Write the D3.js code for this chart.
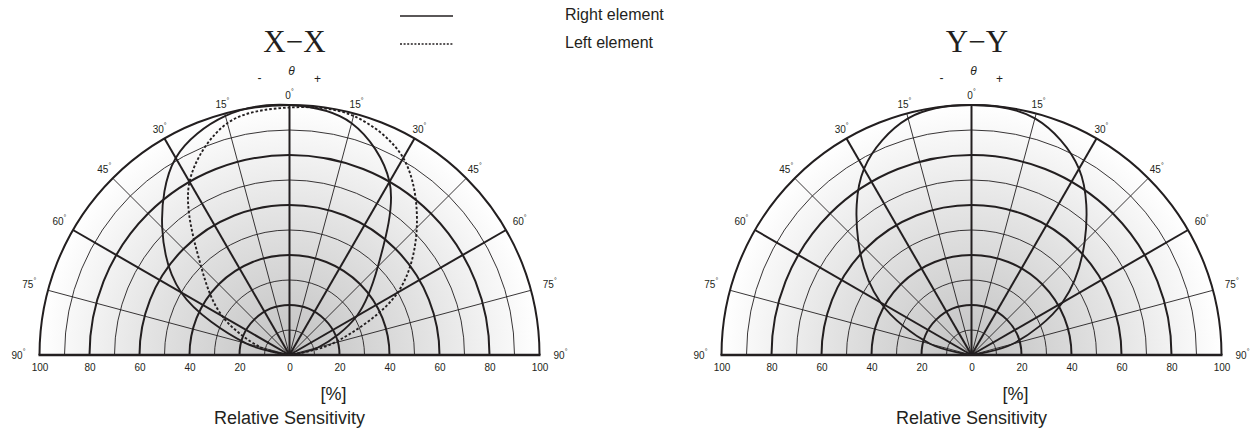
<!DOCTYPE html>
<html>
<head>
<meta charset="utf-8">
<script src="https://cdn.jsdelivr.net/npm/d3@7"></script>
<style>
  body { margin: 0; background: #fff; }
  text { font-family: "Liberation Sans", Arial, sans-serif; fill: #231f20; }
</style>
</head>
<body>
<svg id="chart"></svg>
<script>
// angle in degrees, 0 = straight up, + = right side
const angles = [-90, -75, -60, -45, -30, -15, 0, 15, 30, 45, 60, 75, 90]
const xxRightElement = [0, 18, 50, 72, 91, 99, 100, 96, 80, 50, 31, 12, 0]
const xxLeftElement = [0, 12, 31, 50, 80, 96, 99, 99, 91, 72, 50, 18, 0]
const yyRightElement = [0, 17, 42, 64, 86, 98, 100, 98, 86, 64, 42, 17, 0]

const gridRadii = [10, 20, 30, 40, 50, 60, 70, 80, 90, 100]
const gridAngles = [-75, -60, -45, -30, -15, 0, 15, 30, 45, 60, 75]
const angleLabels = [-90, -75, -60, -45, -30, -15, 0, 15, 30, 45, 60, 75, 90]
const tickValues = [-100, -80, -60, -40, -20, 0, 20, 40, 60, 80, 100]

const w = 1254
const h = 432
const cy = 355
const R = 250
const ink = '#231f20'

const svg = d3.select('#chart')
    .attr('width', w)
    .attr('height', h)

const rScale = d3.scaleLinear().domain([0, 100]).range([0, R])
const aScale = d3.scaleLinear().domain([-90, 90]).range([-Math.PI / 2, Math.PI / 2])
const xScale = d3.scaleLinear().domain([-100, 100]).range([-R, R])

const grad = svg.append('defs')
    .append('radialGradient')
    .attr('id', 'shade')
    .attr('gradientUnits', 'userSpaceOnUse')
    .attr('cx', 0).attr('cy', 0).attr('r', R)
grad.append('stop').attr('offset', '0%').attr('stop-color', '#c2c2c2')
grad.append('stop').attr('offset', '55%').attr('stop-color', '#e2e2e2')
grad.append('stop').attr('offset', '100%').attr('stop-color', '#ffffff')

function halfCircle(r) {
    const p = d3.path()
    p.arc(0, 0, r, Math.PI, 2 * Math.PI)
    return p.toString()
}

const radial = d3.lineRadial()
    .angle(d => aScale(d[0]))
    .radius(d => rScale(d[1]))
    .curve(d3.curveCatmullRom)

// distance of the rim labels from the centre
function labelRadius(d) {
    const s = Math.sin(aScale(d))
    return 259 + 12 * Math.pow(s, 4)
}

function drawPolar(cx, title, titleX, series) {
    const g = svg.append('g').attr('transform', `translate(${cx},${cy})`)

    g.append('path')
        .attr('d', halfCircle(R) + 'Z')
        .attr('fill', 'url(#shade)')

    g.selectAll('.ring')
        .data(gridRadii)
        .enter()
        .append('path')
        .attr('d', d => halfCircle(rScale(d)))
        .attr('fill', 'none')
        .attr('stroke', ink)
        .attr('stroke-width', d => d % 20 === 0 ? 2 : 0.9)

    g.selectAll('.spoke')
        .data(gridAngles)
        .enter()
        .append('line')
        .attr('x1', 0).attr('y1', 0)
        .attr('x2', d => R * Math.sin(aScale(d)))
        .attr('y2', d => -R * Math.cos(aScale(d)))
        .attr('stroke', ink)
        .attr('stroke-width', d => d % 30 === 0 ? 2 : 0.9)

    g.append('line')
        .attr('x1', -R - 1).attr('x2', R + 1)
        .attr('y1', 0).attr('y2', 0)
        .attr('stroke', ink)
        .attr('stroke-width', 2.4)

    series.forEach(s => {
        g.append('path')
            .datum(angles.map((a, i) => [a, s.values[i]]))
            .attr('d', radial)
            .attr('fill', 'none')
            .attr('stroke', ink)
            .attr('stroke-width', 1.9)
            .attr('stroke-dasharray', s.dash || null)
    })

    // angle labels round the rim
    const lab = g.selectAll('.alab')
        .data(angleLabels)
        .enter()
        .append('text')
        .attr('x', d => labelRadius(d) * Math.sin(aScale(d)))
        .attr('y', d => Math.abs(d) === 90 ? 1 : -labelRadius(d) * Math.cos(aScale(d)))
        .attr('text-anchor', 'middle')
        .attr('dominant-baseline', 'middle')
        .style('font-size', '10px')
    lab.append('tspan').text(d => Math.abs(d))
    lab.append('tspan').text('°').style('font-size', '7px').attr('dy', -4)

    const axis = d3.axisBottom(xScale)
        .tickValues(tickValues)
        .tickFormat(d => Math.abs(d))
        .tickSize(0)
        .tickPadding(9)
    g.append('g')
        .call(axis)
        .call(a => a.select('.domain').remove())
        .selectAll('text')
        .style('font-size', '10px')
        .style('font-family', '"Liberation Sans", Arial, sans-serif')
        .attr('fill', ink)

    g.append('text')
        .attr('x', 2).attr('y', -283)
        .attr('text-anchor', 'middle')
        .attr('dominant-baseline', 'middle')
        .style('font-size', '12px')
        .style('font-style', 'italic')
        .text('θ')
    g.append('text')
        .attr('x', -30).attr('y', -276)
        .attr('text-anchor', 'middle')
        .attr('dominant-baseline', 'middle')
        .style('font-size', '12px')
        .text('-')
    g.append('text')
        .attr('x', 28).attr('y', -275)
        .attr('text-anchor', 'middle')
        .attr('dominant-baseline', 'middle')
        .style('font-size', '12px')
        .text('+')

    g.append('text')
        .attr('x', 44).attr('y', 40)
        .attr('text-anchor', 'middle')
        .attr('dominant-baseline', 'middle')
        .style('font-size', '18px')
        .text('[%]')
    g.append('text')
        .attr('x', 0).attr('y', 64)
        .attr('text-anchor', 'middle')
        .attr('dominant-baseline', 'middle')
        .style('font-size', '18px')
        .text('Relative Sensitivity')

    svg.append('text')
        .attr('x', titleX).attr('y', 52)
        .attr('text-anchor', 'middle')
        .style('font-family', '"Liberation Serif", "Times New Roman", serif')
        .style('font-size', '31px')
        .text(title)
}

drawPolar(289.5, 'X\u2212X', 294.5, [
    { values: xxRightElement },
    { values: xxLeftElement, dash: '2.6,2' }
])
drawPolar(971.5, 'Y\u2212Y', 977, [
    { values: yyRightElement }
])

// legend
const legend = [
    { label: 'Right element', y: 16, dash: null },
    { label: 'Left element', y: 44, dash: '2,1.6' }
]
legend.forEach(l => {
    svg.append('line')
        .attr('x1', 400).attr('x2', 453)
        .attr('y1', l.y).attr('y2', l.y)
        .attr('stroke', ink)
        .attr('stroke-width', 1.5)
        .attr('stroke-dasharray', l.dash)
    svg.append('text')
        .attr('x', 565).attr('y', l.y)
        .attr('dominant-baseline', 'middle')
        .style('font-size', '16px')
        .text(l.label)
})
</script>
</body>
</html>
